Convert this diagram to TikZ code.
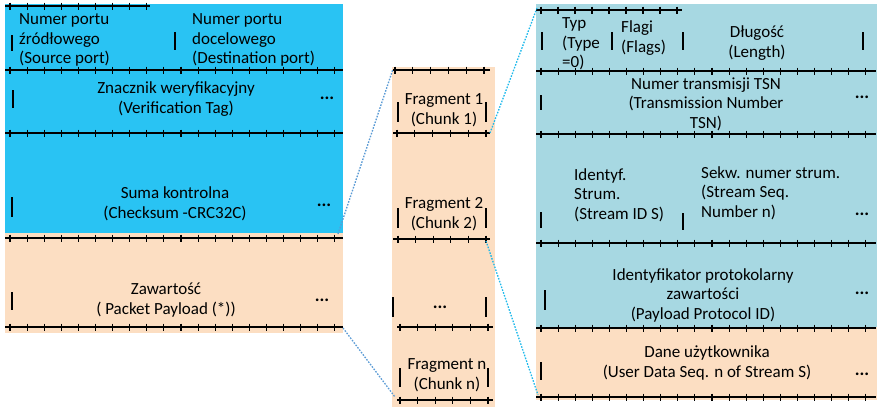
\documentclass[tikz,border=0pt]{standalone}
\usepackage{fontspec}
\setmainfont{Carlito}
\usepackage{tikz}
\usetikzlibrary{positioning}

\definecolor{segblue}{RGB}{41,195,243}
\definecolor{peach}{RGB}{252,222,194}
\definecolor{datablue}{RGB}{167,216,226}
\definecolor{linkblue}{RGB}{91,155,213}
\definecolor{linkcyan}{RGB}{30,185,235}

% ruler: x1, x2, y, first tick, step, last index
\newcommand{\ruler}[6]{%
  \draw[rule] (#1,#3) -- (#2,#3);
  \foreach \t in {0,...,#6}
    \draw[rule] ({#4+\t*#5},#3-3.5) -- ({#4+\t*#5},#3+3.5);
}

\begin{document}
\begin{tikzpicture}[
  x=1pt, y=-1pt,
  every node/.style={inner sep=0pt, font=\fontsize{17}{19.5}\selectfont},
  lbl/.style={align=center},
  lbll/.style={align=left, anchor=west},
  more/.style={font=\fontsize{18}{19.5}\selectfont\bfseries},
  rule/.style={line width=1.1pt, black},
  bar/.style={line width=1.1pt, black},
  link/.style={line width=1.3pt, dash pattern=on 1.6pt off 1.4pt}
]
  \useasboundingbox (0,0) rectangle (880,407);

  % backgrounds
  \fill[segblue] (5,4) rectangle (343,233);
  \fill[peach] (5,233) rectangle (343,333);
  \fill[peach] (392,67) rectangle (495,407);
  \fill[datablue] (536,4) rectangle (877,327);
  \fill[peach] (536,327) rectangle (877,400);

  % packet rulers
  \ruler{5}{150}{6}{10}{17.1}{8}
  \ruler{5}{343}{70}{10}{17.1}{19}
  \ruler{5}{343}{133}{10}{17.1}{19}
  \ruler{5}{343}{238}{10}{17.1}{19}
  \ruler{5}{343}{327}{10}{17.1}{19}

  % chunk rulers
  \ruler{393}{490}{70}{395}{17.8}{5}
  \ruler{393}{490}{133}{397}{17.8}{5}
  \ruler{393}{490}{239}{398}{17.6}{5}
  \ruler{397}{493}{327}{400}{17.6}{5}
  \ruler{397}{493}{400}{400}{17.6}{5}

  % data chunk rulers
  \ruler{536}{682}{10}{541}{17}{8}
  \ruler{536}{876}{71}{541}{17.1}{19}
  \ruler{536}{876}{134}{541}{17.1}{19}
  \ruler{536}{876}{243}{541}{17.1}{19}
  \ruler{536}{876}{328}{541}{17.1}{19}
  \ruler{536}{876}{397}{541}{17.1}{19}

  % packet fields
  \node[lbll] (srcport) at (19,40) {Numer portu\\źródłowego\\(Source port)};
  \node[lbll] (dstport) at (192,40) {Numer portu\\docelowego\\(Destination port)};
  \node[lbl] (vtag) at (176,99) {Znacznik weryfikacyjny\\(Verification Tag)};
  \node[lbl] (csum) at (175,204) {Suma kontrolna\\(Checksum -CRC32C)};
  \node[lbl] (payload) at (166,300) {Zawartość\\( Packet Payload (*))};
  \node[more] (vdots) at (327,98) {...};
  \node[more] (cdots) at (324,205) {...};
  \node[more] (pdots) at (322,300) {...};
  \draw[bar] (12,35) -- (12,51);
  \draw[bar] (175,32) -- (175,50);
  \draw[bar] (13,90) -- (13,108);
  \draw[bar] (12,197) -- (12,217);
  \draw[bar] (12,292) -- (12,310);

  % chunks
  \node[lbl] (chunka) at (444,110) {Fragment 1\\(Chunk 1)};
  \node[lbl] (chunkb) at (444,214) {Fragment 2\\(Chunk 2)};
  \node[more] (chunkdots) at (440,307) {...};
  \node[lbl] (chunkn) at (447,375) {Fragment n\\(Chunk n)};
  \draw[bar] (398,102) -- (398,122);
  \draw[bar] (486,102) -- (486,122);
  \draw[bar] (398,208) -- (398,228);
  \draw[bar] (486,208) -- (486,228);
  \draw[bar] (393,297) -- (393,317);
  \draw[bar] (486,297) -- (486,317);
  \draw[bar] (400,368) -- (400,387);
  \draw[bar] (488,368) -- (488,387);

  % data chunk fields
  \node[lbll] (ctype) at (562,44) {Typ\\(Type\\=0)};
  \node[lbll] (cflags) at (621,38) {Flagi\\(Flags)};
  \node[lbl] (clen) at (757,43) {Długość\\(Length)};
  \node[lbl] (tsn) at (706,104) {Numer transmisji TSN\\(Transmission Number\\TSN)};
  \node[lbll] (sid) at (574,195) {Identyf.\\Strum.\\(Stream ID S)};
  \node[lbll] (sseq) at (701,193) {Sekw. numer strum.\\(Stream Seq.\\Number n)};
  \node[lbl] (ppid) at (703,295) {Identyfikator protokolarny\\zawartości\\(Payload Protocol ID)};
  \node[lbl] (udata) at (707,363) {Dane użytkownika\\(User Data Seq. n of Stream S)};
  \node[more] (tdots) at (862,97) {...};
  \node[more] (sdots) at (862,214) {...};
  \node[more] (pidots) at (862,293) {...};
  \node[more] (udots) at (862,374) {...};
  \draw[bar] (542,32) -- (542,50);
  \draw[bar] (612,32) -- (612,50);
  \draw[bar] (683,32) -- (683,50);
  \draw[bar] (863,32) -- (863,50);
  \draw[bar] (541,95) -- (541,110);
  \draw[bar] (541,212) -- (541,228);
  \draw[bar] (683,213) -- (683,230);
  \draw[bar] (545,290) -- (545,310);
  \draw[bar] (541,362) -- (541,380);

  % zoom links
  \coordinate (pktcut) at (338,234);
  \coordinate (pktfoot) at (343,328);
  \coordinate (chunktop) at (393,69);
  \coordinate (chunkfoot) at (395,397);
  \coordinate (chunkacut) at (490,133);
  \coordinate (chunkbcut) at (486,241);
  \coordinate (datatop) at (537,8);
  \coordinate (datafoot) at (538,395);
  \draw[link, linkblue] (pktcut) -- (chunktop);
  \draw[link, linkblue] (pktfoot) -- (chunkfoot);
  \draw[link, linkcyan] (chunkacut) -- (datatop);
  \draw[link, linkcyan] (chunkbcut) -- (datafoot);
\end{tikzpicture}
\end{document}
